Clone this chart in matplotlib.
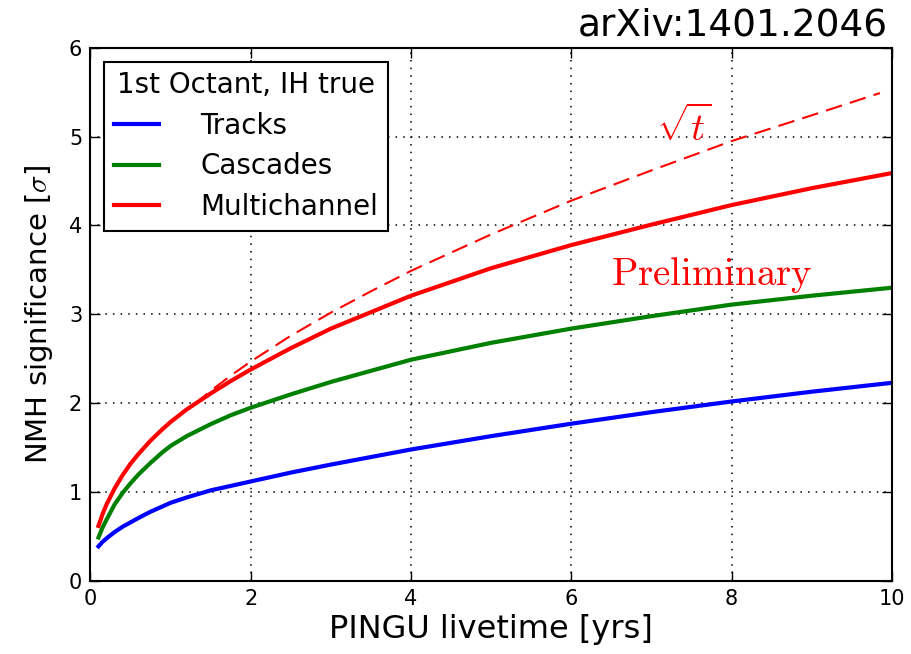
import numpy as np
import matplotlib
matplotlib.use('Agg')
import matplotlib.pyplot as plt

# livetime samples [yrs]
livetime = [0.1, 0.15, 0.2, 0.3, 0.4, 0.5, 0.6, 0.75, 0.9, 1, 1.2, 1.5, 1.75,
            2, 2.5, 3, 4, 5, 6, 7, 8, 9, 10]

# NMH significance [sigma] per channel
tracks = [0.39, 0.44, 0.48, 0.55, 0.61, 0.66, 0.71, 0.78, 0.84, 0.88, 0.94,
          1.02, 1.07, 1.12, 1.22, 1.31, 1.48, 1.63, 1.77, 1.90, 2.02, 2.13,
          2.23]
cascades = [0.49, 0.60, 0.69, 0.86, 0.99, 1.10, 1.20, 1.33, 1.45, 1.52, 1.63,
            1.765, 1.865, 1.95, 2.10, 2.24, 2.49, 2.68, 2.84, 2.98, 3.11, 3.21,
            3.30]
multichannel = [0.62, 0.75, 0.86, 1.04, 1.19, 1.32, 1.43, 1.58, 1.71, 1.79,
                1.93, 2.11, 2.25, 2.38, 2.62, 2.84, 3.21, 3.52, 3.78, 4.01,
                4.23, 4.42, 4.59]

# sqrt(t) reference curve (dashed)
sqrt_t = [1.3, 1.5, 1.75, 2, 2.5, 3, 3.5, 4, 5, 6, 7, 8, 9, 9.85]
sqrt_val = [1.99, 2.14, 2.31, 2.47, 2.76, 3.02, 3.26, 3.49, 3.90, 4.28, 4.62,
            4.95, 5.24, 5.49]

series = [
    ('Tracks', tracks, 'blue'),
    ('Cascades', cascades, 'green'),
    ('Multichannel', multichannel, 'red'),
]

plt.rcParams['font.family'] = ['DejaVu Sans']
plt.rcParams['mathtext.fontset'] = 'cm'

fig = plt.figure(figsize=(9.12, 6.54), dpi=100)
ax = fig.add_axes([0.0992, 0.1116, 0.8788, 0.8154])

for name, vals, col in series:
    ax.plot(livetime, vals, color=col, linewidth=3, label=name)

ax.plot(sqrt_t, sqrt_val, color='red', linewidth=1.5, dashes=(8, 4))

ax.text(7.05, 4.95, r'$\sqrt{t}$', color='red', fontsize=28,
        ha='left', va='baseline')
ax.text(6.5, 3.33, r'$\mathrm{Preliminary}$', color='red', fontsize=28,
        ha='left', va='baseline')

ax.set_xlim(0, 10)
ax.set_ylim(0, 6)
ax.set_xticks([0, 2, 4, 6, 8, 10])
ax.set_yticks([0, 1, 2, 3, 4, 5, 6])
ax.tick_params(direction='in', top=True, right=True, length=7, width=1,
               labelsize=15, pad=6)
ax.grid(True, color='black', linestyle=(0, (1, 4)), linewidth=1.1)
for sp in ax.spines.values():
    sp.set_linewidth(1.5)

ax.set_xlabel('PINGU livetime [yrs]', fontsize=23, labelpad=3)
ax.set_ylabel(r'NMH significance [$\sigma$]', fontsize=21, labelpad=10)

leg = ax.legend(loc='upper left', title='1st Octant, IH true',
                fontsize=20, title_fontsize=20, handlelength=1.6,
                handletextpad=1.5, labelspacing=0.45, borderpad=0.35,
                fancybox=False, framealpha=1, edgecolor='black')
leg.get_frame().set_linewidth(1.5)

fig.text(0.973, 1 - 35 / 654, 'arXiv:1401.2046', fontsize=27,
         ha='right', va='baseline')

fig.savefig('out.png', dpi=100)
plt.close(fig)
